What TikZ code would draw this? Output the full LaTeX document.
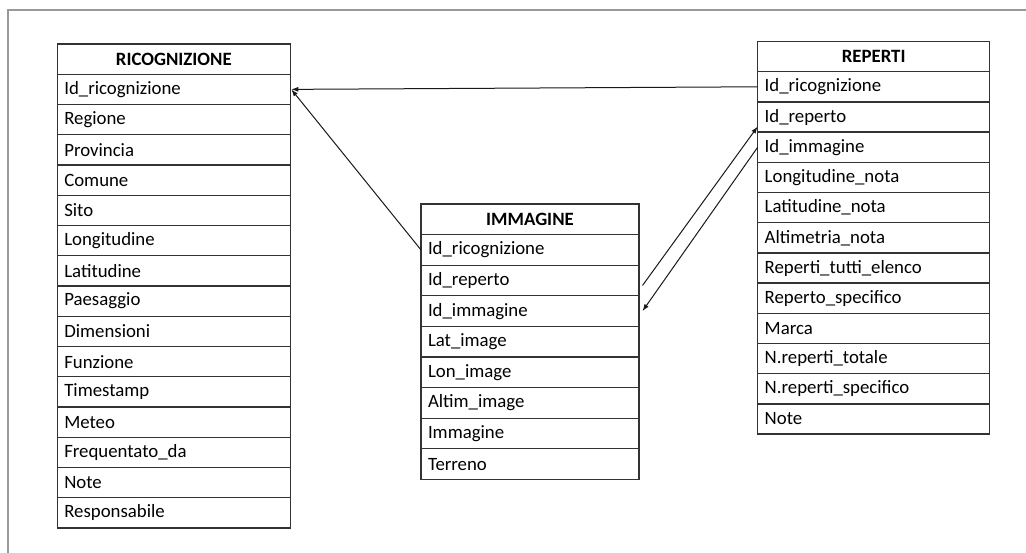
\documentclass[tikz,border=0pt]{standalone}
\usepackage{fontspec}
\setmainfont{Carlito}
\usetikzlibrary{arrows.meta}
\tikzset{
  cellbase/.style={draw=black!80, line width=1.3pt, inner xsep=7pt, inner ysep=0pt,
    outer sep=0pt, anchor=north west, font=\fontsize{18.8}{20}\selectfont},
  cell/.style={cellbase, align=left},
  hdr/.style={cellbase, align=center, font=\fontsize{18.8}{20}\selectfont\bfseries},
  link/.style={line width=1pt, black!90},
  tip/.style={-{Latex[length=7pt,width=5pt]}},
  frame/.style={draw=black!40, line width=1.4pt}
}
% #1 prefix, #2 x, #3 y, #4 text width, #5 row height, #6 header, #7 fields
\newcommand{\erTable}[7]{%
  \node[hdr, minimum height=#5pt, text width=#4pt] (#10) at (#2,#3) {#6};
  \foreach \f [count=\k] in {#7} {
    \node[cell, minimum height=#5pt, text width=#4pt] (#1\k) at (#2,#3+\k*#5) {\f};
  }%
}
\begin{document}
\begin{tikzpicture}[x=1pt,y=-1pt]
  \useasboundingbox (0,0) rectangle (1026,553);
  \draw[frame] (8,553) -- (8,10) -- (1026,10);

  \erTable{r}{57.3}{44}{219}{30.25}{RICOGNIZIONE}{Id\_ricognizione,Regione,Provincia,Comune,Sito,Longitudine,Latitudine,Paesaggio,Dimensioni,Funzione,Timestamp,Meteo,Frequentato\_da,Note,Responsabile}

  \erTable{i}{421}{204}{204}{30.6}{IMMAGINE}{Id\_ricognizione,Id\_reperto,Id\_immagine,Lat\_image,Lon\_image,Altim\_image,Immagine,Terreno}

  \erTable{p}{757.7}{41.5}{218}{30.2}{REPERTI}{Id\_ricognizione,Id\_reperto,Id\_immagine,Longitudine\_nota,Latitudine\_nota,Altimetria\_nota,Reperti\_tutti\_elenco,Reperto\_specifico,Marca,N.reperti\_totale,N.reperti\_specifico,Note}

  % connectors
  \draw[link,tip] (p1.west) -- ([xshift=1pt]r1.east);
  \draw[link,tip] (i1.west) -- ([xshift=1pt]r1.east);
  \draw[link,tip] ([xshift=3.5pt,yshift=-5pt]i2.east) -- ([yshift=-9.5pt]p2.west);
  \draw[link,tip] (p3.west) -- ([xshift=3.5pt]i3.east);
\end{tikzpicture}
\end{document}
